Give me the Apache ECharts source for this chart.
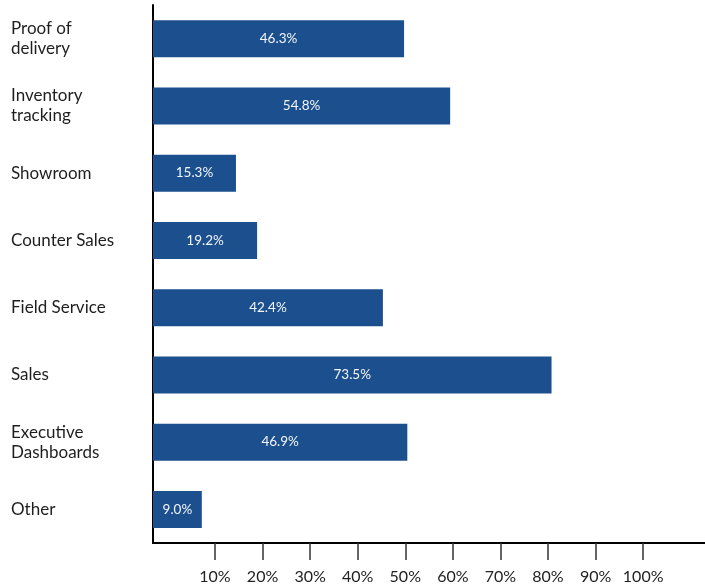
<!DOCTYPE html>
<html>
<head>
<meta charset="utf-8">
<style>
  html, body { margin: 0; padding: 0; background: #fff; }
  #chart { width: 705px; height: 588px; }
</style>
<script src="https://cdn.jsdelivr.net/npm/echarts@6/dist/echarts.min.js"></script>
</head>
<body>
<div id="chart"></div>
<script>
// Use cases, listed top to bottom
const categories = [
  'Proof of\ndelivery',
  'Inventory\ntracking',
  'Showroom',
  'Counter Sales',
  'Field Service',
  'Sales',
  'Executive\nDashboards',
  'Other'
];

// Share of respondents per use case (%)
const shares = [46.3, 54.8, 15.3, 19.2, 42.4, 73.5, 46.9, 9.0];

// Percentage ticks along the bottom scale
const tickValues = [10, 20, 30, 40, 50, 60, 70, 80, 90, 100];

const FONT = 'Lato, "Noto Sans", sans-serif';
const chart = echarts.init(document.getElementById('chart'), null, { renderer: 'canvas' });

chart.setOption({
  animation: false,
  backgroundColor: '#ffffff',
  grid: { left: 153, right: 0, top: 5, height: 538, containLabel: false },
  xAxis: [
    {
      // scale the bars are measured against
      type: 'value',
      position: 'bottom',
      min: 0,
      max: 101.8,
      show: false
    },
    {
      // printed percentage scale
      type: 'value',
      position: 'bottom',
      min: -3.03,
      max: 113,
      axisLine: { show: true, lineStyle: { color: '#000', width: 2 } },
      axisTick: {
        show: true,
        length: 17,
        customValues: tickValues,
        lineStyle: { color: '#333', width: 1.5 }
      },
      axisLabel: {
        customValues: tickValues,
        formatter: v => v + '%',
        margin: 26,
        fontFamily: FONT,
        fontSize: 16,
        color: '#222'
      },
      splitLine: { show: false }
    }
  ],
  yAxis: {
    type: 'category',
    data: categories,
    inverse: true,
    axisLine: { show: true, lineStyle: { color: '#000', width: 2 } },
    axisTick: { show: false },
    axisLabel: {
      align: 'left',
      margin: 142,
      padding: [0, 0, 5, 0],
      fontFamily: FONT,
      fontSize: 17,
      lineHeight: 20,
      color: '#1e1e1e'
    }
  },
  series: [{
    type: 'bar',
    xAxisIndex: 0,
    data: shares,
    barWidth: 37,
    itemStyle: { color: '#1b4f8d' },
    label: {
      show: true,
      position: 'inside',
      formatter: p => p.value.toFixed(1) + '%',
      color: '#f4f6fa',
      fontFamily: FONT,
      fontSize: 13.5
    }
  }]
});
</script>
</body>
</html>
